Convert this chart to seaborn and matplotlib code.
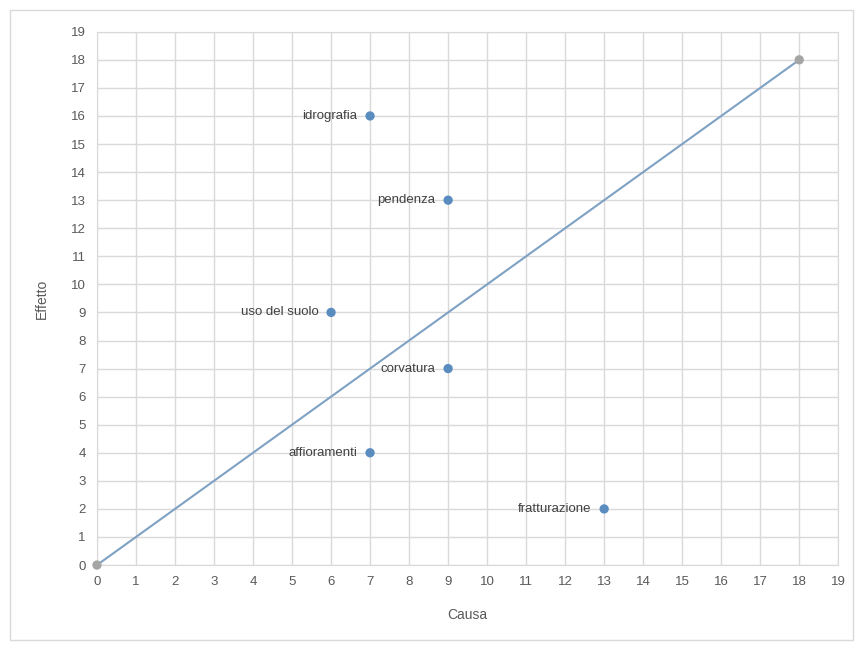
import matplotlib
matplotlib.use("Agg")
import matplotlib.pyplot as plt
import seaborn as sns
import pandas as pd
from matplotlib.patches import Rectangle

# Fattori (causa, effetto)
fattori = ["idrografia", "pendenza", "uso del suolo", "corvatura", "affioramenti", "fratturazione"]
causa = [7, 9, 6, 9, 7, 13]
effetto = [16, 13, 9, 7, 4, 2]

# Diagonale di riferimento
diag_x = [0, 18]
diag_y = [0, 18]

df = pd.DataFrame({"Causa": causa, "Effetto": effetto, "fattore": fattori})
diag = pd.DataFrame({"Causa": diag_x, "Effetto": diag_y})

sns.set_style("white")
plt.rcParams['font.family'] = ['Liberation Sans', 'DejaVu Sans']

fig = plt.figure(figsize=(8.58, 6.48), dpi=100)
ax = fig.add_axes([0.113, 0.128, 0.864, 0.823])

# chart border
fig.patches.append(Rectangle((0.012, 0.012), 0.982, 0.972, transform=fig.transFigure,
                             fill=False, edgecolor="#d9d9d9", linewidth=1))

sns.lineplot(data=diag, x="Causa", y="Effetto", ax=ax, color="#7ea1c4", linewidth=1.5)
sns.scatterplot(data=diag, x="Causa", y="Effetto", ax=ax, color="#a5a5a5", s=45,
                edgecolor="none", zorder=3, clip_on=False)
sns.scatterplot(data=df, x="Causa", y="Effetto", ax=ax, color="#5b8cc0", s=45,
                edgecolor="none", zorder=3)

for _, r in df.iterrows():
    ax.annotate(r["fattore"], (r["Causa"], r["Effetto"]), xytext=(-9, 0),
                textcoords="offset points", ha="right", va="center",
                fontsize=9.5, color="#404040")

ax.set_xlim(0, 19)
ax.set_ylim(0, 19)
ax.set_xticks(range(0, 20))
ax.set_yticks(range(0, 20))
ax.grid(True, color="#d9d9d9", linewidth=1)
ax.set_axisbelow(True)
for s in ax.spines.values():
    s.set_color("#d9d9d9")
ax.tick_params(axis="both", colors="#595959", labelsize=9.5, length=0, pad=8)
ax.set_xlabel("Causa", color="#595959", fontsize=10, labelpad=14)
ax.set_ylabel("Effetto", color="#595959", fontsize=10, labelpad=16)

fig.savefig("out.png", dpi=100)
